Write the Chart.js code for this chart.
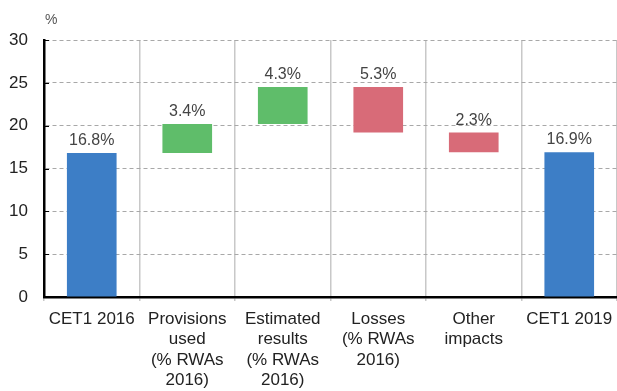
<!DOCTYPE html>
<html>
<head>
<meta charset="utf-8">
<script src="https://cdn.jsdelivr.net/npm/chart.js@4"></script>
<style>
  html, body { margin: 0; padding: 0; background: #fff; }
  #wrap { width: 617px; height: 391px; }
</style>
</head>
<body>
<div id="wrap"><canvas id="chart"></canvas></div>
<script>
// CET1 ratio walk, 2016 -> 2019
const categories = [
  'CET1 2016',
  ['Provisions', 'used', '(% RWAs', '2016)'],
  ['Estimated', 'results', '(% RWAs', '2016)'],
  ['Losses', '(% RWAs', '2016)'],
  ['Other', 'impacts'],
  'CET1 2019'
];
const startLevel = 16.8;
const changes = [3.4, 4.3, -5.3, -2.3];
const endLevel = 16.9;
const yTicks = [0, 5, 10, 15, 20, 25, 30];

const BLUE = '#3d7ec6';
const GREEN = '#5fbd6a';
const RED = '#d86b78';

// build floating bars from the running total
const floating = [[0, startLevel]];
const labels = [startLevel.toFixed(1) + '%'];
const colors = [BLUE];
let level = startLevel;
changes.forEach(c => {
  floating.push([level, level + c]);
  labels.push(Math.abs(c).toFixed(1) + '%');
  colors.push(c >= 0 ? GREEN : RED);
  level += c;
});
floating.push([0, endLevel]);
labels.push(endLevel.toFixed(1) + '%');
colors.push(BLUE);

const FONT = '"Liberation Sans", Arial, sans-serif';

// value labels above bars + the % unit label + inward y ticks
const extras = {
  id: 'extras',
  afterDatasetsDraw(chart) {
    const ctx = chart.ctx;
    const meta = chart.getDatasetMeta(0);
    const ys = chart.scales.y;
    ctx.save();
    ctx.font = '16px ' + FONT;
    ctx.fillStyle = '#444';
    ctx.textAlign = 'center';
    ctx.textBaseline = 'alphabetic';
    meta.data.forEach((bar, i) => {
      const top = Math.min(bar.y, bar.base);
      ctx.fillText(labels[i], bar.x, top - 8);
    });
    ctx.fillStyle = '#555';
    ctx.font = '14px ' + FONT;
    ctx.textAlign = 'left';
    ctx.fillText('%', ys.right + 1, ys.top - 16);
    ctx.strokeStyle = '#000';
    ctx.lineWidth = 1;
    yTicks.forEach(v => {
      const y = Math.round(ys.getPixelForValue(v)) + 0.5;
      ctx.beginPath();
      ctx.moveTo(ys.right, y);
      ctx.lineTo(ys.right + 5, y);
      ctx.stroke();
    });
    ctx.restore();
  }
};

new Chart(document.getElementById('chart'), {
  type: 'bar',
  data: {
    labels: categories,
    datasets: [{
      data: floating,
      backgroundColor: colors,
      borderWidth: 0,
      barPercentage: 0.52,
      categoryPercentage: 1
    }]
  },
  options: {
    responsive: true,
    maintainAspectRatio: false,
    animation: false,
    layout: { padding: { top: 40, right: 0, left: 0, bottom: 0 } },
    plugins: {
      legend: { display: false },
      tooltip: { enabled: false }
    },
    scales: {
      x: {
        grid: {
          color: '#c8c8c8',
          lineWidth: 1.5,
          tickLength: 4
        },
        border: { color: '#000', width: 2.5 },
        ticks: {
          color: '#222',
          font: { family: FONT, size: 17, lineHeight: 1.2 },
          maxRotation: 0,
          autoSkip: false,
          padding: 8
        },
        afterFit(scale) {
          scale.height = 94;
          // let the last category run to the right edge
          scale.paddingRight = 0;
          scale.paddingLeft = 0;
        }
      },
      y: {
        min: 0,
        max: 30,
        afterBuildTicks(scale) { scale.ticks = yTicks.map(v => ({ value: v })); },
        grid: {
          color: '#a8a8a8',
          lineWidth: 1,
          drawTicks: false
        },
        border: { color: '#000', width: 2.5, dash: [4, 3] },
        ticks: {
          color: '#222',
          font: { family: FONT, size: 17 },
          padding: 16
        },
        afterFit(scale) { scale.width = 44; }
      }
    }
  },
  plugins: [extras]
});
</script>
</body>
</html>
